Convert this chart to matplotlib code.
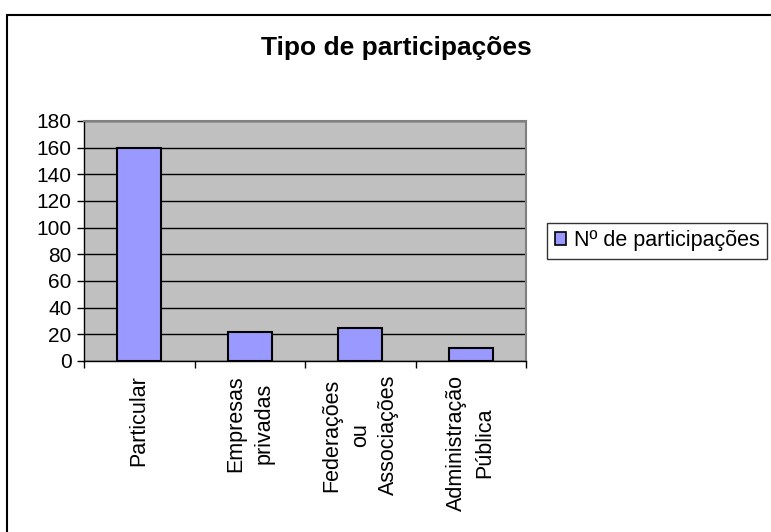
import matplotlib
matplotlib.use("Agg")
import matplotlib.pyplot as plt
from matplotlib.patches import Rectangle, Patch
import numpy as np

categories = ["Particular", "Empresas\nprivadas", "Federações\nou\nAssociações", "Administração\nPública"]
values = [160, 22, 25, 10]
series_name = "Nº de participações"
title = "Tipo de participações"
yticks = [0, 20, 40, 60, 80, 100, 120, 140, 160, 180]

plt.rcParams['font.family'] = ['Liberation Sans', 'DejaVu Sans']

fig = plt.figure(figsize=(7.71, 5.32), dpi=100)
fig.patch.set_facecolor("white")
W, H = 771, 532
ax = fig.add_axes([84 / W, 1 - 361 / H, (526 - 84) / W, (361 - 121) / H])
ax.set_facecolor("#C0C0C0")

x = np.arange(len(categories))
ax.bar(x, values, width=0.4, color="#9999FF", edgecolor="black", linewidth=1.5, zorder=3)

ax.set_xlim(-0.5, len(categories) - 0.5)
ax.set_ylim(0, 180)
ax.set_yticks(yticks)
ax.set_yticklabels([str(v) for v in yticks], fontsize=15)
ax.yaxis.grid(True, color="black", linewidth=1, zorder=1)
ax.set_axisbelow(True)

ax.set_xticks(np.arange(len(categories) + 1) - 0.5)
ax.set_xticklabels([])
ax.set_xticks(x, minor=True)
ax.set_xticklabels(categories, minor=True, rotation=90, fontsize=15.5,
                   va="top", ha="center", multialignment="center",
                   linespacing=1.45)
ax.tick_params(axis="x", which="minor", length=0, pad=10)
ax.tick_params(axis="x", which="major", length=5, width=1, color="black")
ax.tick_params(axis="y", length=5, width=1, pad=4)

for s in ["top", "right"]:
    ax.spines[s].set_color("#808080")
    ax.spines[s].set_linewidth(1.5)
for s in ["left", "bottom"]:
    ax.spines[s].set_color("black")
    ax.spines[s].set_linewidth(1)

fig.text(396 / W, 1 - 48 / H, title, fontsize=19, fontweight="bold",
         ha="center", va="center")

handle = Patch(facecolor="#9999FF", edgecolor="black", linewidth=1.2)
leg = fig.legend([handle], [series_name], loc="center left",
                 bbox_to_anchor=(547 / W, 1 - 241 / H), fontsize=15.5,
                 frameon=True, fancybox=False, edgecolor="black",
                 handlelength=0.55, handleheight=0.55, handletextpad=0.35,
                 borderpad=0.35, borderaxespad=0)
leg.get_frame().set_linewidth(1)

fig.patches.append(Rectangle((7 / W, -0.1), 1.2, 1 - 15 / H + 0.1,
                             transform=fig.transFigure, fill=False,
                             edgecolor="black", linewidth=1.5, zorder=0))

fig.savefig("out.png", dpi=100, facecolor="white")
